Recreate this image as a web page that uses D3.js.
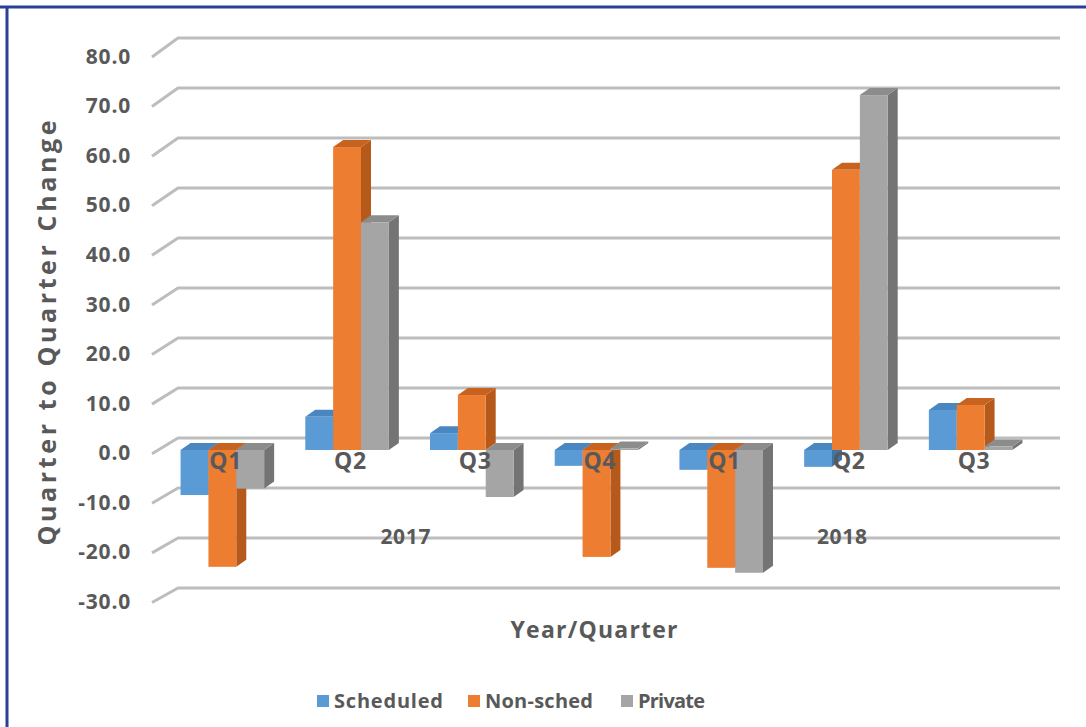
<!DOCTYPE html>
<html>
<head>
<meta charset="utf-8">
<script src="https://cdn.jsdelivr.net/npm/d3@7"></script>
<style>
  html, body { margin: 0; padding: 0; background: #fff; }
  svg { display: block; }
  text { font-family: "Open Sans", "DejaVu Sans", sans-serif; font-weight: 700; fill: #595959; }
</style>
</head>
<body>
<svg id="chart" width="1086" height="727"></svg>
<script>
// ---- data ----
const quarters = ["Q1", "Q2", "Q3", "Q4", "Q1", "Q2", "Q3"];
const years = ["2017", "2017", "2017", "2017", "2018", "2018", "2018"];
const seriesNames = ["Scheduled", "Non-sched", "Private"];
const scheduled = [-9.1, 6.7, 3.4, -3.2, -4.0, -3.4, 8.1];
const nonSched  = [-23.6, 61.2, 11.1, -21.6, -23.8, 56.6, 9.1];
const privateV  = [-7.8, 46.0, -9.5, 0.3, -24.8, 71.7, 0.7];
const tickValues = [-30, -20, -10, 0, 10, 20, 30, 40, 50, 60, 70, 80];

const colors = {
  front: ["#5B9BD5", "#ED7D31", "#A5A5A5"],
  side:  ["#3E74A8", "#B65A1C", "#747474"],
  top:   ["#4A86C0", "#C8631F", "#8C8C8C"]
};

const svg = d3.select("#chart");

// frame
svg.append("line").attr("x1", 0).attr("x2", 1086).attr("y1", 7).attr("y2", 7)
  .attr("stroke", "#2B3F98").attr("stroke-width", 3);
svg.append("line").attr("x1", 7).attr("x2", 7).attr("y1", 6).attr("y2", 727)
  .attr("stroke", "#2B3F98").attr("stroke-width", 3);

// scales
const domainY = [-30, 80];
const yFront = d3.scaleLinear().domain(domainY).range([601.5, 56]);   // left wall front edge / labels
const yBack  = d3.scaleLinear().domain(domainY).range([588, 38]);     // back wall
const yBar   = d3.scaleLinear().domain(domainY).range([598.5, 54]);   // bar front faces

const cats = quarters.map((q, i) => years[i] + " " + q);
const x0 = d3.scaleBand().domain(cats).range([160, 1033]).paddingInner(0.33).paddingOuter(0.165);
const x1 = d3.scaleBand().domain(seriesNames).range([0, x0.bandwidth()]);

const DX = 10, DY = -7;

// gridlines
const grid = svg.append("g");
tickValues.forEach(v => {
  grid.append("path")
    .attr("d", `M152,${yFront(v) + 1} L178,${yBack(v)} L1060,${yBack(v)}`)
    .attr("fill", "none").attr("stroke", "#BDBDBD").attr("stroke-width", 3)
    .attr("stroke-linejoin", "round");
});

// tick labels
svg.append("g").selectAll("text").data(tickValues).join("text")
  .attr("x", 131).attr("y", d => yFront(d))
  .attr("dy", "0.36em").attr("text-anchor", "end")
  .attr("font-size", 21).attr("letter-spacing", 0.8)
  .text(d => d.toFixed(1));

// bars
const data = [scheduled, nonSched, privateV];
const bars = svg.append("g");
cats.forEach((c, i) => {
  seriesNames.forEach((s, k) => {
    const v = data[k][i];
    const xl = x0(c) + x1(s);
    const xr = xl + x1.bandwidth();
    const yTop = yBar(Math.max(v, 0));
    const yBot = yBar(Math.min(v, 0));
    const g = bars.append("g");
    g.append("path")
      .attr("d", `M${xr},${yTop} L${xr + DX},${yTop + DY} L${xr + DX},${yBot + DY} L${xr},${yBot} Z`)
      .attr("fill", colors.side[k]);
    g.append("path")
      .attr("d", `M${xl},${yTop} L${xl + DX},${yTop + DY} L${xr + DX},${yTop + DY} L${xr},${yTop} Z`)
      .attr("fill", colors.top[k]);
    g.append("rect")
      .attr("x", xl).attr("y", yTop).attr("width", x1.bandwidth()).attr("height", Math.max(0.5, yBot - yTop))
      .attr("fill", colors.front[k]);
  });
});

// quarter labels
svg.append("g").selectAll("text").data(cats).join("text")
  .attr("x", d => x0(d) + x0.bandwidth() / 2 + 3)
  .attr("y", 469)
  .attr("text-anchor", "middle").attr("font-size", 23)
  .attr("textLength", 32).attr("lengthAdjust", "spacing")
  .text((d, i) => quarters[i]);

// year labels
const yearNames = Array.from(new Set(years));
yearNames.forEach(yr => {
  const idx = cats.filter((c, i) => years[i] === yr);
  const cx = (x0(idx[0]) + x0(idx[idx.length - 1]) + x0.bandwidth()) / 2;
  svg.append("text").attr("x", cx - 4).attr("y", 544)
    .attr("text-anchor", "middle").attr("font-size", 21)
    .attr("textLength", 50).attr("lengthAdjust", "spacing")
    .text(yr);
});

// axis titles
svg.append("text")
  .attr("transform", "translate(56,333) rotate(-90)")
  .attr("text-anchor", "middle").attr("font-size", 25)
  .attr("textLength", 425).attr("lengthAdjust", "spacing")
  .text("Quarter to Quarter Change");

svg.append("text")
  .attr("x", 594).attr("y", 638)
  .attr("text-anchor", "middle").attr("font-size", 23)
  .attr("textLength", 167).attr("lengthAdjust", "spacing")
  .text("Year/Quarter");

// legend
const legendItems = [
  { name: "Scheduled", sx: 317, tx: 334, len: 109 },
  { name: "Non-sched", sx: 468, tx: 485, len: 108 },
  { name: "Private",   sx: 621, tx: 638, len: 67 }
];
const lg = svg.append("g");
legendItems.forEach((d, k) => {
  lg.append("rect").attr("x", d.sx).attr("y", 695).attr("width", 12).attr("height", 12)
    .attr("fill", colors.front[k]);
  lg.append("text").attr("x", d.tx).attr("y", 708).attr("font-size", 20)
    .attr("textLength", d.len).attr("lengthAdjust", "spacing")
    .text(d.name);
});
</script>
</body>
</html>
